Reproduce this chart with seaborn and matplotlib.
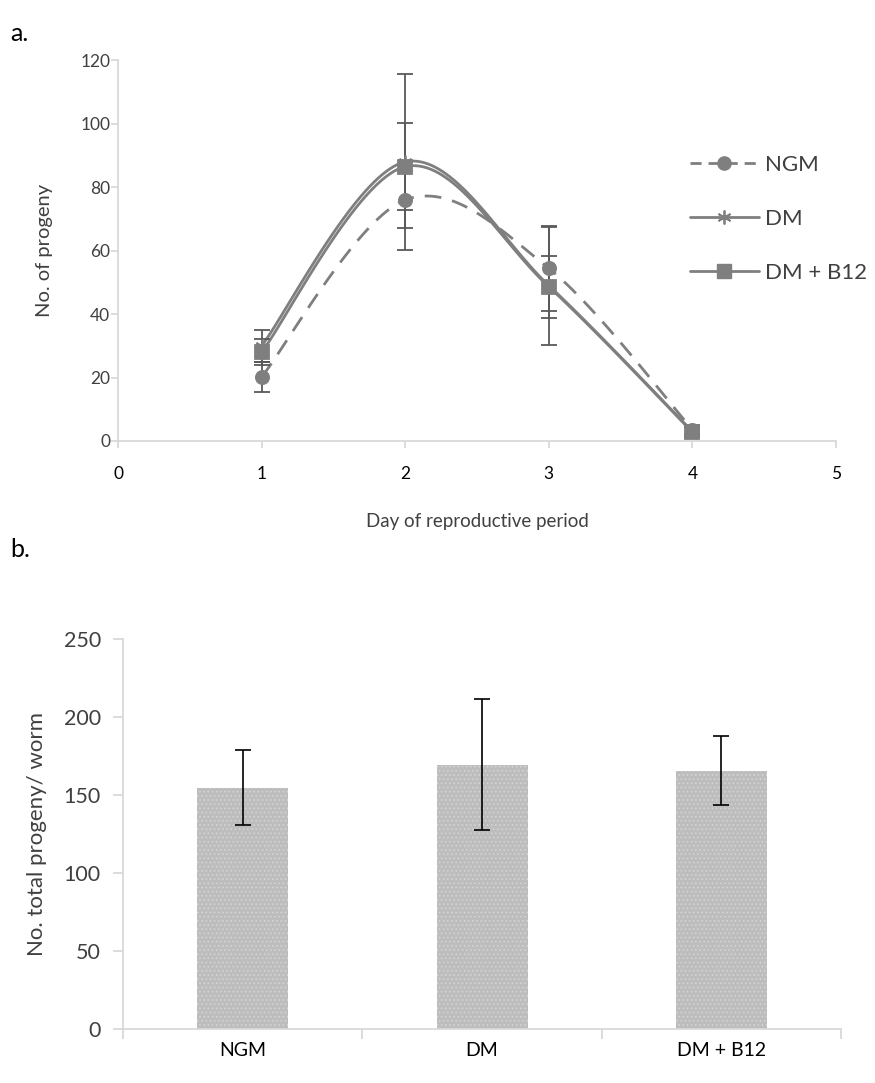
import numpy as np
import pandas as pd
import matplotlib
matplotlib.use("Agg")
import matplotlib.pyplot as plt
from matplotlib.lines import Line2D
import seaborn as sns

# ---------------- data ----------------
days = [1, 2, 3, 4]
ngm = [20.2, 76.0, 54.4, 3.6]
ngm_err = [4.6, 9.0, 13.4, 1.5]
dm = [30.0, 88.0, 49.0, 3.0]
dm_err = [5.0, 27.8, 18.6, 1.5]
dmb12 = [28.0, 86.5, 48.6, 2.8]
dmb12_err = [4.2, 13.6, 9.7, 1.5]
series_names = ["NGM", "DM", "DM + B12"]

bar_cats = ["NGM", "DM", "DM + B12"]
bar_vals = [154.8, 169.4, 165.7]
bar_err = [23.9, 41.9, 22.2]

# ---------------- style ----------------
sns.set_theme(style="white")
plt.rcParams['font.family'] = ['Lato', 'DejaVu Sans']
plt.rcParams['hatch.linewidth'] = 0.6
TXT = '#404040'
SPINE = '#d9d9d9'
LINE = '#7f7f7f'
ERR = '#595959'


def smooth(xs, ys, n=40):
    """Excel-like smoothed line (Catmull-Rom Bezier) through given points."""
    P = np.column_stack([xs, ys]).astype(float)
    out = []
    m = len(P)
    for i in range(m - 1):
        p0 = P[i - 1] if i > 0 else P[i]
        p1 = P[i]
        p2 = P[i + 1]
        p3 = P[i + 2] if i + 2 < m else P[i + 1]
        b1 = p1 + (p2 - p0) / 6.0
        b2 = p2 - (p3 - p1) / 6.0
        t = np.linspace(0, 1, n)[:, None]
        seg = ((1 - t) ** 3) * p1 + 3 * ((1 - t) ** 2) * t * b1 + 3 * (1 - t) * t ** 2 * b2 + t ** 3 * p2
        out.append(seg if i == 0 else seg[1:])
    seg = np.vstack(out)
    return seg[:, 0], seg[:, 1]


fig = plt.figure(figsize=(8.75, 10.83), dpi=100)

# ---------------- panel a ----------------
ax1 = fig.add_axes([0.1349, 0.5928, 0.8206, 0.3515])

vals = {"NGM": (ngm, ngm_err, 'o', 9.5),
        "DM": (dm, dm_err, (6, 2, 0), 10),
        "DM + B12": (dmb12, dmb12_err, 's', 9.5)}

frames = []
for name in series_names:
    y = vals[name][0]
    sx, sy = smooth(days, y)
    frames.append(pd.DataFrame({"day": sx, "val": sy, "series": name}))
curves = pd.concat(frames, ignore_index=True)

sns.lineplot(data=curves, x="day", y="val", hue="series", style="series",
             palette={n: LINE for n in series_names},
             dashes={"NGM": (6, 4), "DM": "", "DM + B12": ""},
             sort=False, estimator=None, linewidth=2.0, legend=False, ax=ax1)

for name in series_names:
    y, e, mk, ms = vals[name]
    ax1.errorbar(days, y, yerr=e, fmt='none', ecolor=ERR, elinewidth=1.3,
                 capsize=6, capthick=1.3, zorder=3)
for name in series_names:
    y, e, mk, ms = vals[name]
    ax1.plot(days, y, linestyle='none', marker=mk, markersize=ms,
             color=LINE, markeredgecolor=LINE, markeredgewidth=1.3, zorder=4)

ax1.set_xlim(0, 5)
ax1.set_ylim(0, 120)
ax1.set_xticks(range(0, 6))
ax1.set_yticks(range(0, 121, 20))
for s in ['top', 'right']:
    ax1.spines[s].set_visible(False)
for s in ['left', 'bottom']:
    ax1.spines[s].set_color(SPINE)
    ax1.spines[s].set_linewidth(1.3)
ax1.tick_params(axis='both', direction='out', length=5, width=1.3, color=SPINE,
                labelcolor='#000000', labelsize=12.5)
ax1.tick_params(axis='x', pad=13, bottom=True)
ax1.tick_params(axis='y', pad=0.5, left=True, labelcolor=TXT)
ax1.set_xlabel("Day of reproductive period", fontsize=13.5, color=TXT, labelpad=22)
ax1.set_ylabel("No. of progeny", fontsize=14.5, color=TXT, labelpad=20)

handles = [
    Line2D([], [], color=LINE, linestyle=(0, (4, 2.5)), linewidth=2, marker='o', markersize=9.5),
    Line2D([], [], color=LINE, linestyle='-', linewidth=2, marker=(6, 2, 0), markersize=10,
           markeredgewidth=1.3),
    Line2D([], [], color=LINE, linestyle='-', linewidth=2, marker='s', markersize=9.5),
]
leg = ax1.legend(handles, series_names, loc='upper left', bbox_to_anchor=(0.784, 0.774),
                 frameon=False, handlelength=3.1, labelspacing=1.52, fontsize=16,
                 handletextpad=0.3, borderaxespad=0)
for t in leg.get_texts():
    t.set_color(TXT)

fig.text(0.012, 0.962, "a.", fontsize=18, color='black')

# ---------------- panel b ----------------
ax2 = fig.add_axes([0.1406, 0.0496, 0.8206, 0.3604])
bdf = pd.DataFrame({"cat": bar_cats, "val": bar_vals})
sns.barplot(data=bdf, x="cat", y="val", color='#c0c0c0', width=0.38, ax=ax2,
            saturation=1, errorbar=None)
for p in ax2.patches:
    p.set_facecolor('#bdbdbd')
    p.set_hatch('....')
    p.set_edgecolor('#d6d6d6')
    p.set_linewidth(0)
ax2.errorbar(range(len(bar_cats)), bar_vals, yerr=bar_err, fmt='none', ecolor='black',
             elinewidth=1.2, capsize=6, capthick=1.2, zorder=3)

ax2.set_xlim(-0.5, 2.5)
ax2.set_ylim(0, 250)
ax2.set_yticks(range(0, 251, 50))
ax2.set_xticks(range(len(bar_cats)))
ax2.set_xticklabels(bar_cats)
ax2.set_xticks([-0.5, 0.5, 1.5, 2.5], minor=True)
for s in ['top', 'right']:
    ax2.spines[s].set_visible(False)
for s in ['left', 'bottom']:
    ax2.spines[s].set_color(SPINE)
    ax2.spines[s].set_linewidth(1.3)
ax2.tick_params(axis='x', which='major', length=0, pad=9, labelsize=14, labelcolor='#000000')
ax2.tick_params(axis='x', which='minor', length=7, width=1.3, color=SPINE, bottom=True,
                direction='out')
ax2.tick_params(axis='y', length=7, width=1.3, color=SPINE, left=True, direction='out',
                pad=9, labelsize=15.5, labelcolor=TXT)
ax2.set_xlabel("")
ax2.set_ylabel("No. total progeny/ worm", fontsize=16, color=TXT, labelpad=12)

fig.text(0.012, 0.486, "b.", fontsize=18, color='black')

fig.savefig("out.png", dpi=100)
